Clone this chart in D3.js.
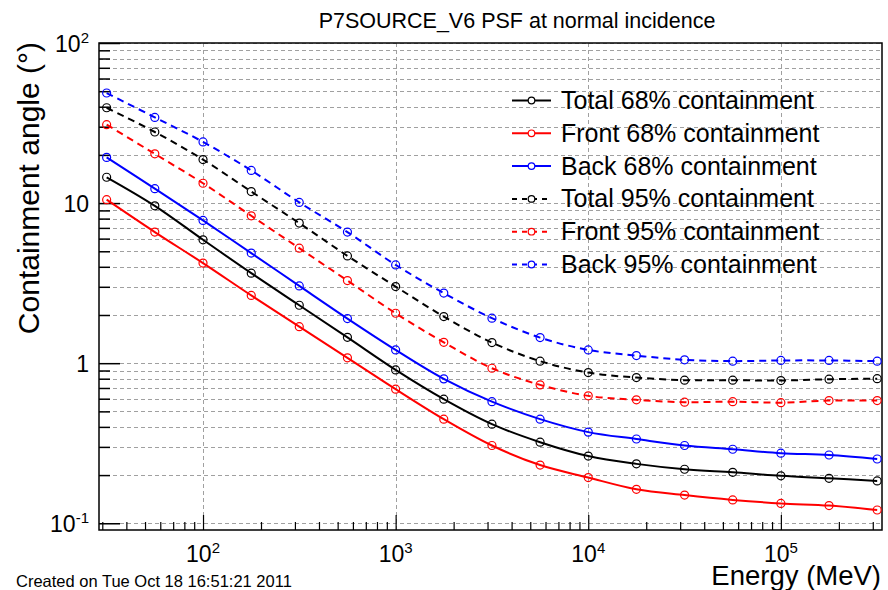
<!DOCTYPE html>
<html>
<head>
<meta charset="utf-8">
<script src="https://cdn.jsdelivr.net/npm/d3@7"></script>
<style>
  body { margin: 0; background: #fff; }
  svg { display: block; font-family: "Liberation Sans", Arial, Helvetica, sans-serif; }
</style>
</head>
<body>
<script>
// energies in MeV (quarter-decade steps)
const energy = [31.6, 56.2, 100, 178, 316, 562, 1000, 1778, 3162, 5623,
                10000, 17783, 31623, 56234, 100000, 177828, 316228]

const total68 = [14.5, 9.62, 5.9, 3.65, 2.30, 1.45, 0.908, 0.596, 0.416, 0.321,
                 0.263, 0.235, 0.2175, 0.208, 0.198, 0.191, 0.184]
const front68 = [10.5, 6.59, 4.22, 2.65, 1.69, 1.08, 0.688, 0.447, 0.306, 0.231,
                 0.193, 0.163, 0.150, 0.140, 0.133, 0.129, 0.121]
const back68  = [19.3, 12.3, 7.79, 4.87, 3.04, 1.90, 1.21, 0.798, 0.575, 0.447,
                 0.371, 0.336, 0.306, 0.290, 0.274, 0.267, 0.252]
const total95 = [39.4, 27.8, 18.7, 11.8, 7.5, 4.68, 3.01, 1.955, 1.345, 1.03,
                 0.874, 0.813, 0.783, 0.783, 0.779, 0.794, 0.80]
const front95 = [30.9, 20.3, 13.3, 8.33, 5.23, 3.28, 2.05, 1.35, 0.93, 0.732,
                 0.625, 0.59, 0.571, 0.575, 0.567, 0.584, 0.584]
const back95  = [48.7, 34.3, 24.1, 16.0, 10.1, 6.59, 4.11, 2.74, 1.91, 1.445,
                 1.21, 1.115, 1.05, 1.03, 1.04, 1.04, 1.03]

const seriesNames = ["Total 68% containment", "Front 68% containment", "Back 68% containment",
                     "Total 95% containment", "Front 95% containment", "Back 95% containment"]
const seriesValues = [total68, front68, back68, total95, front95, back95]
const seriesColors = ["#000000", "#ff0000", "#0000ff", "#000000", "#ff0000", "#0000ff"]
const seriesDashed = [false, false, false, true, true, true]

const titleText = "P7SOURCE_V6 PSF at normal incidence"
const xTitle = "Energy (MeV)"
const yTitle = "Containment angle (\u00b0)"
const stamp = "Created on Tue Oct 18 16:51:21 2011"

const width = 888, height = 590
const frame = {left: 99, right: 882, top: 43, bottom: 530}
const dash = "7,5"

const x = d3.scaleLog().domain([Math.pow(10, 1.46), Math.pow(10, 5.525)]).range([frame.left, frame.right])
const y = d3.scaleLog().domain([Math.pow(10, -1.042), 100]).range([frame.bottom, frame.top])

const isDecade = v => Math.abs(Math.log10(v) - Math.round(Math.log10(v))) < 1e-9

const svg = d3.select("body").append("svg")
    .attr("width", width)
    .attr("height", height)

// grid
const grid = svg.append("g")
    .attr("stroke", "#a0a0a0")
    .attr("stroke-width", 1)
    .attr("stroke-dasharray", "4,3")
grid.selectAll("line.h")
  .data(y.ticks())
  .join("line")
    .attr("x1", frame.left).attr("x2", frame.right)
    .attr("y1", d => Math.round(y(d)) + 0.5).attr("y2", d => Math.round(y(d)) + 0.5)
grid.selectAll("line.v")
  .data(x.ticks().filter(isDecade))
  .join("line")
    .attr("y1", frame.top).attr("y2", frame.bottom)
    .attr("x1", d => Math.round(x(d)) + 0.5).attr("x2", d => Math.round(x(d)) + 0.5)

// axes (ticks inside the frame)
const yAxis = svg.append("g")
    .attr("transform", `translate(${frame.left},0)`)
    .call(d3.axisRight(y).tickValues(y.ticks()).tickFormat("").tickSizeOuter(0))
yAxis.select(".domain").remove()
yAxis.selectAll(".tick line")
    .attr("x2", d => isDecade(d) ? 21 : 11)
    .attr("stroke", "#000").attr("stroke-width", 1.5)

const xAxis = svg.append("g")
    .attr("transform", `translate(0,${frame.bottom})`)
    .call(d3.axisTop(x).tickValues(x.ticks()).tickFormat("").tickSizeOuter(0))
xAxis.select(".domain").remove()
xAxis.selectAll(".tick line")
    .attr("y2", d => isDecade(d) ? -15 : -8)
    .attr("stroke", "#000").attr("stroke-width", 1.2)

// frame
svg.append("rect")
    .attr("x", frame.left).attr("y", frame.top)
    .attr("width", frame.right - frame.left)
    .attr("height", frame.bottom - frame.top)
    .attr("fill", "none").attr("stroke", "#000").attr("stroke-width", 1.5)

// tick labels with superscripts
function powLabel(sel, v) {
  const e = Math.round(Math.log10(v))
  if (e === 0) { sel.text("1"); return }
  if (e === 1) { sel.text("10"); return }
  sel.append("tspan").text("10")
  sel.append("tspan").attr("dy", -9).attr("font-size", 15).text(String(e))
}

svg.append("g").selectAll("text")
  .data(y.ticks().filter(isDecade))
  .join("text")
    .attr("x", 89)
    .attr("y", d => y(d) + 9)
    .attr("text-anchor", "end")
    .attr("font-size", 23)
    .each(function(d) { powLabel(d3.select(this), d) })

svg.append("g").selectAll("text")
  .data(x.ticks().filter(isDecade))
  .join("text")
    .attr("x", d => x(d))
    .attr("y", 562)
    .attr("text-anchor", "middle")
    .attr("font-size", 23)
    .each(function(d) { powLabel(d3.select(this), d) })

// curves
const line = d3.line()
    .x(d => x(d[0]))
    .y(d => y(d[1]))
    .curve(d3.curveCatmullRom.alpha(0.5))

const plot = svg.append("g")
seriesValues.forEach((vals, i) => {
  const pts = energy.map((e, j) => [e, vals[j]])
  const g = plot.append("g")
  g.append("path")
      .attr("d", line(pts))
      .attr("fill", "none")
      .attr("stroke", seriesColors[i])
      .attr("stroke-width", 2)
      .attr("stroke-dasharray", seriesDashed[i] ? dash : null)
  g.selectAll("circle")
    .data(pts)
    .join("circle")
      .attr("cx", d => x(d[0]))
      .attr("cy", d => y(d[1]))
      .attr("r", 4)
      .attr("fill", "none")
      .attr("stroke", seriesColors[i])
      .attr("stroke-width", 1.2)
})

// legend
const legend = svg.append("g")
seriesNames.forEach((name, i) => {
  const cy = 100.5 + i * 32.8
  legend.append("line")
      .attr("x1", 512).attr("x2", 551)
      .attr("y1", cy).attr("y2", cy)
      .attr("stroke", seriesColors[i])
      .attr("stroke-width", 2)
      .attr("stroke-dasharray", seriesDashed[i] ? "5,5" : null)
  legend.append("circle")
      .attr("cx", 531.5).attr("cy", cy).attr("r", 3.3)
      .attr("fill", "#fff")
      .attr("stroke", seriesColors[i]).attr("stroke-width", 1.2)
  legend.append("text")
      .attr("x", 561).attr("y", cy + 8.5)
      .attr("font-size", 25)
      .text(name)
})

// titles
svg.append("text")
    .attr("x", 517).attr("y", 28)
    .attr("text-anchor", "middle")
    .attr("font-size", 21.5)
    .text(titleText)

svg.append("text")
    .attr("x", 881).attr("y", 585)
    .attr("text-anchor", "end")
    .attr("font-size", 27.5)
    .text(xTitle)

svg.append("text")
    .attr("transform", "translate(39,42) rotate(-90)")
    .attr("text-anchor", "end")
    .attr("font-size", 30)
    .text(yTitle)

svg.append("text")
    .attr("x", 16).attr("y", 587)
    .attr("font-size", 16.5)
    .text(stamp)
</script>
</body>
</html>
